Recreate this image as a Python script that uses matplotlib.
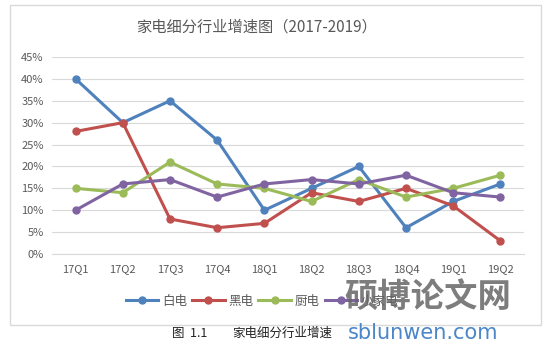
import matplotlib
matplotlib.use("Agg")
import matplotlib.pyplot as plt
from matplotlib.patches import Rectangle

plt.rcParams['font.family'] = ['Noto Sans CJK SC', 'DejaVu Sans']

quarters = ['17Q1', '17Q2', '17Q3', '17Q4', '18Q1', '18Q2', '18Q3', '18Q4', '19Q1', '19Q2']
bai_dian = [40, 30, 35, 26, 10, 15, 20, 6, 12, 16]
hei_dian = [28, 30, 8, 6, 7, 14, 12, 15, 11, 3]
chu_dian = [15, 14, 21, 16, 15, 12, 17, 13, 15, 18]
xiao_jiadian = [10, 16, 17, 13, 16, 17, 16, 18, 14, 13]
series_names = ['白电', '黑电', '厨电', '小家电']
colors = ['#4F81BD', '#C0504D', '#9BBB59', '#8064A2']
yticks = [0, 5, 10, 15, 20, 25, 30, 35, 40, 45]

W, H = 552, 351
fig = plt.figure(figsize=(W / 100, H / 100), dpi=100)

# chart frame
fig.patches.append(Rectangle((10 / W, 1 - 325 / H), 531 / W, 320 / H,
                             transform=fig.transFigure, fill=False,
                             edgecolor='#D9D9D9', linewidth=1))

ax = fig.add_axes([52 / W, 1 - 254 / H, 472 / W, 197 / H])
x = list(range(len(quarters)))
for vals, name, c in zip([bai_dian, hei_dian, chu_dian, xiao_jiadian], series_names, colors):
    ax.plot(x, vals, color=c, lw=2.2, marker='o', ms=5, label=name, zorder=3)

ax.set_xlim(-0.5, len(quarters) - 0.5)
ax.set_ylim(0, 45)
ax.set_yticks(yticks)
ax.set_yticklabels([f'{v}%' for v in yticks])
ax.set_xticks(x)
ax.set_xticklabels(quarters)
ax.grid(axis='y', color='#D9D9D9', lw=0.8)
ax.set_axisbelow(True)
for s in ['top', 'right', 'left']:
    ax.spines[s].set_visible(False)
ax.spines['bottom'].set_color('#D9D9D9')
ax.tick_params(length=0, labelsize=8, labelcolor='#595959')
ax.tick_params(axis='x', pad=7)
ax.tick_params(axis='y', pad=6)

fig.text(257 / W, 1 - 27 / H, '家电细分行业增速图（2017-2019）', ha='center', va='center',
         fontsize=11, color='#595959')

ax.legend(loc='center', bbox_to_anchor=(262 / W, 1 - 301 / H), bbox_transform=fig.transFigure,
          ncol=4, frameon=False, fontsize=9, handlelength=2.6, columnspacing=0.4,
          handletextpad=0.3, labelcolor='#595959')

fig.text(172 / W, 1 - 333 / H, '图  1.1', ha='left', va='center', fontsize=9, color='#222222')
fig.text(232 / W, 1 - 333 / H, '家电细分行业增速', ha='left', va='center', fontsize=9, color='#222222')

# watermark
fig.text(428 / W, 1 - 297 / H, '硕博论文网', ha='center', va='center', fontsize=24,
         color='#666666', alpha=0.85, fontweight='bold')
fig.text(423 / W, 1 - 333 / H, 'sblunwen.com', ha='center', va='center', fontsize=15,
         color='#4A86C8', family=['DejaVu Sans'])

fig.savefig('out.png', dpi=100)
